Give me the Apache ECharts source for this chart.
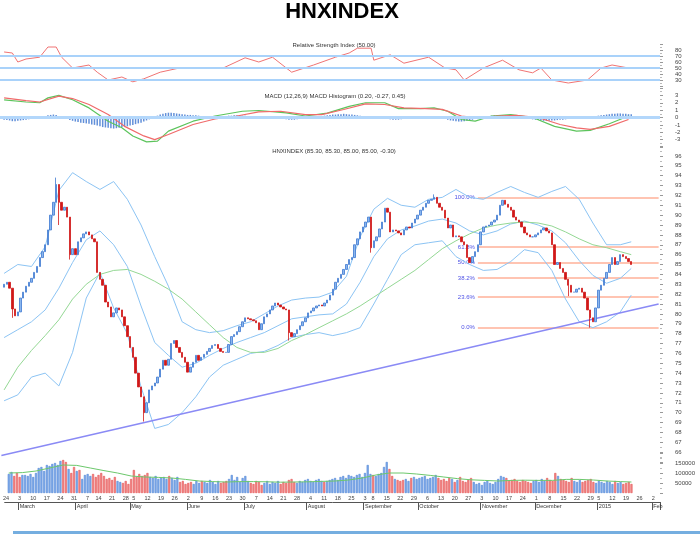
<!DOCTYPE html>
<html>
<head>
<meta charset="utf-8">
<title>HNXINDEX</title>
<script src="https://cdn.jsdelivr.net/npm/echarts@6.0.0/dist/echarts.min.js"></script>
<style>
html,body{margin:0;padding:0;background:#ffffff;}
#chart{width:700px;height:534px;}
</style>
</head>
<body>
<div id="chart"></div>
<script>
// ---------------- categories (trading days) ----------------
const axisStart = '2014-02-24';
const axisEnd = '2015-02-04';
const holidays = ['2014-04-09','2014-04-30','2014-05-01','2014-09-01','2014-09-02','2015-01-01','2015-01-02'];
const priceStart = '2014-02-25';
const monthTitles = {'2014-03':'March','2014-04':'April','2014-05':'May','2014-06':'June','2014-07':'July','2014-08':'August','2014-09':'September','2014-10':'October','2014-11':'November','2014-12':'December','2015-01':'2015','2015-02':'Feb'};

// ---------------- price (daily closes) ----------------
const firstOpen = 82.7;
const closes = [
83.0,83.2,82.6,80.5,79.8,80.2,81.6,82.2,82.8,83.2,
83.6,84.2,84.8,85.7,86.3,87.0,88.5,90.0,91.3,93.1,
91.3,90.5,90.8,89.8,86.0,86.6,86.0,87.3,87.7,88.1,
88.3,88.0,87.6,87.3,84.2,83.5,82.9,81.2,80.7,79.7,
80.1,80.6,80.4,79.7,78.8,77.7,76.6,75.6,74.0,72.6,
71.6,70.0,71.0,72.3,72.7,73.0,73.6,74.4,75.3,74.8,
75.4,77.0,77.3,76.6,76.1,75.6,75.1,74.1,74.6,75.1,
75.8,75.3,75.6,75.9,76.2,76.5,76.8,76.9,76.5,76.2,
76.1,76.1,76.9,77.7,77.9,78.2,78.7,79.2,79.6,79.5,
79.4,79.3,79.1,78.4,79.0,79.7,80.0,80.4,80.8,81.1,
80.9,80.7,80.5,80.4,78.1,77.7,78.0,78.4,78.8,79.2,
79.6,80.1,80.3,80.6,80.8,80.9,80.8,81.1,81.4,81.9,
82.5,83.2,83.6,84.0,84.5,85.0,85.5,85.7,87.0,87.6,
88.3,88.8,89.3,89.8,86.7,87.4,87.8,88.6,89.3,90.7,
90.3,88.3,88.5,88.4,88.2,88.0,88.5,88.8,88.7,89.2,
89.6,90.0,90.5,90.8,91.2,91.5,91.6,91.8,91.2,90.8,
90.5,89.7,88.7,89.0,87.8,87.9,87.8,87.3,87.0,85.7,
85.2,85.8,86.3,87.0,88.3,88.8,88.9,89.0,89.3,89.5,
90.0,91.0,91.5,91.1,90.8,90.5,89.8,89.5,89.3,88.8,
88.2,88.0,87.8,87.8,88.0,88.2,88.5,88.7,88.4,88.2,
87.0,85.0,85.2,84.6,84.2,83.5,82.9,82.2,82.2,82.5,
82.6,82.2,81.6,80.4,79.6,79.2,80.6,82.4,82.9,83.6,
84.2,85.0,85.7,85.0,85.3,86.0,85.8,85.6,85.3,85.0
];
const wickLow = {3:79.6, 20:89.0, 24:85.5, 51:69.1, 104:77.3, 134:86.2, 206:81.8, 214:78.6};
const wickHigh = {19:93.8, 157:92.1};

// ---------------- volume (thousand shares) ----------------
const volumes = [
95,105,85,100,80,90,90,85,95,80,
100,125,130,110,140,135,145,150,140,160,
165,155,120,100,130,110,115,70,90,95,
85,95,80,90,100,85,70,75,65,80,
60,55,50,60,45,70,115,80,95,85,
90,100,80,75,85,70,75,80,70,85,
75,65,80,55,60,45,50,55,45,60,
50,60,55,50,65,55,45,60,50,55,
60,70,90,65,80,55,75,85,60,50,
45,60,55,40,50,60,45,55,50,60,
45,55,50,65,70,55,50,60,55,65,
70,60,55,65,70,60,55,60,65,70,
75,65,80,85,75,90,85,80,90,95,
80,100,140,95,90,85,95,100,130,155,
120,85,70,65,60,65,70,60,75,80,
70,75,80,85,70,75,80,90,75,65,
70,60,75,70,55,65,80,60,55,65,
75,55,45,50,40,55,60,50,45,55,
70,85,80,75,60,65,70,60,55,65,
60,55,50,60,65,55,70,60,75,65,
60,100,85,70,65,60,55,75,60,55,
65,55,60,65,70,55,50,60,55,50,
60,55,45,60,50,55,45,50,55,45
];

// ---------------- MACD histogram (daily) ----------------
const macdHist = [
-0.3,-0.35,-0.4,-0.5,-0.5,-0.45,-0.4,-0.35,-0.3,-0.25,
-0.2,-0.15,-0.1,-0.05,0.1,0.2,0.3,0.35,0.4,0.35,
0.2,0.05,-0.1,-0.2,-0.35,-0.45,-0.55,-0.6,-0.7,-0.75,
-0.8,-0.85,-0.95,-1.0,-1.1,-1.2,-1.3,-1.35,-1.4,-1.45,
-1.5,-1.45,-1.4,-1.3,-1.25,-1.2,-1.1,-1.0,-0.9,-0.8,
-0.7,-0.55,-0.4,-0.25,-0.1,0.1,0.25,0.4,0.5,0.6,
0.65,0.65,0.6,0.55,0.5,0.45,0.4,0.35,0.35,0.3,
0.3,0.25,0.2,0.2,0.15,0.15,0.1,0.1,0.15,0.15,
0.2,0.2,0.25,0.25,0.3,0.3,0.3,0.25,0.25,0.2,
0.2,0.15,0.15,0.1,0.1,0.05,0.05,0,-0.05,-0.05,
-0.1,-0.15,-0.2,-0.25,-0.3,-0.3,-0.3,-0.25,-0.2,-0.15,
-0.1,-0.05,0,0.05,0.1,0.15,0.2,0.25,0.3,0.35,
0.4,0.4,0.45,0.45,0.5,0.45,0.4,0.4,0.35,0.3,
0.25,0.2,0.2,0.15,0.1,0.05,0,-0.05,-0.1,-0.15,
-0.2,-0.25,-0.3,-0.3,-0.3,-0.25,-0.2,-0.15,-0.1,-0.05,
0,0.05,0.1,0.1,0.15,0.15,0.15,0.1,0.05,0,
-0.1,-0.2,-0.3,-0.4,-0.45,-0.5,-0.55,-0.55,-0.5,-0.45,
-0.4,-0.3,-0.2,-0.1,0,0.1,0.15,0.2,0.25,0.3,
0.3,0.3,0.3,0.25,0.2,0.15,0.1,0.05,0,-0.05,
-0.1,-0.15,-0.2,-0.25,-0.3,-0.35,-0.4,-0.45,-0.45,-0.45,
-0.4,-0.4,-0.35,-0.3,-0.3,-0.25,-0.2,-0.2,-0.15,-0.1,
-0.05,0,0,0.05,0.1,0.15,0.2,0.25,0.3,0.35,
0.4,0.45,0.5,0.5,0.55,0.55,0.5,0.5,0.45,0.45
];

// ---------------- indicator readings (day index from priceStart) ----------------
const bandDays = [0,5,10,15,20,25,30,35,40,45,50,55,60,65,70,75,80,85,90,95,100,105,110,115,120,125,130,135,140,145,150,155,160,165,170,175,180,185,190,195,200,205,210,215,220,225,229];
const upperBand = [84.1,85.0,84.8,86.8,92.5,94.3,93.4,92.6,93.4,91.6,89.0,85.8,82.8,79.2,78.4,78.1,78.3,78.8,79.2,80.0,80.8,81.4,81.6,81.7,82.2,83.8,87.8,90.6,91.7,91.0,90.8,91.6,91.8,92.6,91.8,91.6,92.3,92.9,92.3,91.8,92.4,92.9,91.6,89.2,87.0,87.0,87.3];
const midBand = [77.6,78.4,79.2,80.4,82.6,85.2,87.5,88.4,87.0,84.8,80.8,77.1,75.8,74.6,75.0,75.8,76.5,77.1,77.6,78.1,78.8,79.5,79.7,79.9,80.0,81.0,83.2,85.8,87.6,88.5,88.9,89.4,89.6,89.2,88.4,88.0,88.4,89.1,89.4,89.0,88.4,87.2,85.4,83.9,83.1,83.6,84.6];
const lowerBand = [71.2,71.8,73.6,74.0,72.7,76.1,81.6,84.2,80.6,78.0,72.6,68.4,68.8,70.0,71.6,73.6,74.8,75.4,76.0,76.2,76.8,77.6,77.9,78.1,77.8,78.1,78.6,81.0,83.5,86.0,87.0,87.2,87.4,85.8,85.0,84.4,84.5,85.3,86.5,86.2,84.4,81.5,79.2,78.6,79.2,80.2,81.9];
const longMA = [72.3,74.6,76.3,77.8,79.4,81.5,83.0,84.0,84.4,84.5,84.0,83.3,82.5,81.5,80.2,78.9,77.6,76.6,76.1,76.1,76.5,77.3,77.9,78.6,79.3,80.0,80.8,81.7,82.6,83.5,84.4,85.5,86.6,87.4,88.1,88.7,89.0,89.2,89.3,89.2,88.9,88.3,87.6,87.0,86.7,86.3,86.0];
const volumeMA = [100,102,110,125,140,138,125,112,100,85,80,78,75,68,60,57,55,57,57,56,54,55,56,58,60,65,75,90,100,100,95,88,80,72,66,63,60,63,64,63,63,68,68,65,60,57,55];

const rsiDays = [0,3,5,8,13,16,19,21,25,31,34,38,43,47,51,57,64,72,80,88,93,98,105,113,121,126,129,134,135,141,146,155,161,165,168,175,182,188,193,196,200,206,213,218,222,228];
const rsiValues = [76.7,75,60,65,68,85,85,68,50,55,43,30,35,27,32,43,50,50,50,67,60,68,43,55,68,75,83,83,63,72,58,68,50,47,30,50,63,47,42,50,30,25,30,50,55,50];
const macdDays = [0,8,13,16,20,25,31,38,43,47,52,56,60,69,77,87,93,103,110,118,126,132,139,144,152,157,162,167,172,178,185,193,201,209,214,221,228];
const macdValues = [2.4,2.1,2.0,2.66,3.0,2.4,1.3,-0.5,-1.4,-2.5,-3.3,-3.2,-1.85,-0.5,0.2,0.85,0.95,0.63,0.2,0.6,1.5,2.0,2.0,1.2,1.2,1.3,0.85,-0.27,-0.5,0.2,0.4,0,-1.2,-1.85,-1.75,-0.85,0.2];
const signalDays = [0,8,13,20,25,31,38,44,51,55,60,69,77,85,93,101,110,116,124,132,139,146,154,160,167,173,180,187,195,203,209,214,221,228];
const signalValues = [2.66,2.3,2.1,2.9,2.57,1.76,0.4,-1.2,-2.5,-3.0,-2.3,-0.95,-0.2,0.2,0.77,0.85,0.4,0.4,1.08,1.85,1.76,1.3,1.2,1.1,0.2,-0.05,0.2,0.3,0,-0.95,-1.4,-1.6,-1.2,-0.27];

// ---------------- drawings ----------------
const fibLow = 78.6, fibHigh = 91.8;
const fibLevels = [0, 23.6, 38.2, 50, 61.8, 100];
const fibFrom = '2014-10-31';
const trendValues = [65.65, 81.0]; // at axisStart and axisEnd
const rsiLevels = [70, 50, 30];

// ---------------- build ----------------
function tradingDays(a, b, hol) {
  const out = [], h = new Set(hol);
  let t = Date.UTC(+a.slice(0,4), +a.slice(5,7)-1, +a.slice(8,10));
  const e = Date.UTC(+b.slice(0,4), +b.slice(5,7)-1, +b.slice(8,10));
  while (t <= e) {
    const d = new Date(t), wd = d.getUTCDay(), s = d.toISOString().slice(0,10);
    if (wd > 0 && wd < 6 && !h.has(s)) out.push(s);
    t += 86400000;
  }
  return out;
}
const dates = tradingDays(axisStart, axisEnd, holidays);
const p0 = dates.indexOf(priceStart);
const wday = s => new Date(s + 'T00:00:00Z').getUTCDay();
const isWeekStart = i => i === 0 || wday(dates[i]) <= wday(dates[i-1]);
const isMonthStart = i => i > 0 && dates[i].slice(0,7) !== dates[i-1].slice(0,7);

const ohlc = closes.map((c, i) => {
  const o = i === 0 ? firstOpen : closes[i-1];
  let lo = Math.min(o, c), hi = Math.max(o, c);
  if (wickLow[i] !== undefined) lo = Math.min(lo, wickLow[i]);
  if (wickHigh[i] !== undefined) hi = Math.max(hi, wickHigh[i]);
  return [o, c, lo, hi];
});
const pad = new Array(p0).fill('-');
const candleData = pad.map(() => ['-','-','-','-']).concat(ohlc);
const volData = pad.concat(volumes.map((v, i) => {
  const up = ohlc[i][1] >= ohlc[i][0];
  return {value: v, itemStyle: {color: up ? 'rgba(110,160,232,0.85)' : 'rgba(240,120,120,0.85)', borderColor: up ? '#3f78d0' : '#e04040', borderWidth: 0.5}};
}));
const histData = pad.concat(macdHist);
const pairs = (days, vals) => days.map((d, k) => [d + p0, vals[k]]);

const smallFont = "'Liberation Sans', Arial, sans-serif";
const lbl = {fontSize: 6, color: '#444', margin: 15, fontFamily: smallFont, showMinLabel: false, showMaxLabel: false};
function rightAxis(grid, min, max, interval, extra) {
  return Object.assign({
    type: 'value', gridIndex: grid, position: 'right', min, max, interval,
    splitLine: {show: false}, axisLine: {show: false},
    axisTick: {show: true, length: 3, lineStyle: {color: '#999'}},
    minorTick: {show: true, splitNumber: 2, length: 2, lineStyle: {color: '#bbb'}},
    axisLabel: Object.assign({}, lbl)
  }, extra || {});
}
const hiddenX = g => ({type: 'category', gridIndex: g, data: dates, show: false, boundaryGap: true});
const lineS = (x, y, data, color, w, z) => ({type: 'line', xAxisIndex: x, yAxisIndex: y, data, symbol: 'none', showSymbol: false, connectNulls: true, lineStyle: {color, width: w}, z: z || 2, silent: true});

const last = ohlc[ohlc.length-1], prev = ohlc[ohlc.length-2];
const mainTitle = 'HNXINDEX (' + [last[0], last[3], last[2], last[1]].map(v => v.toFixed(2)).join(', ') + ', ' + (last[1]-prev[1]).toFixed(2) + ')';
const rsiTitle = 'Relative Strength Index (' + rsiValues[rsiValues.length-1].toFixed(2) + ')';
const macdTitle = 'MACD (12,26,9) MACD Histogram (' + [macdValues[macdValues.length-1], signalValues[signalValues.length-1], macdHist[macdHist.length-1]].map(v => v.toFixed(2)).join(', ') + ')';

const W = 660;
const option = {
  animation: false,
  backgroundColor: '#ffffff',
  textStyle: {fontFamily: smallFont},
  graphic: [
    {type: 'text', x: 342, y: 1, style: {text: 'HNXINDEX', font: "bold 22px 'Liberation Sans', Arial, sans-serif", fill: '#000', textAlign: 'center', textVerticalAlign: 'top'}},
    {type: 'text', x: 334, y: 42, style: {text: rsiTitle, font: "6px 'Liberation Sans', Arial", fill: '#333', textAlign: 'center', textVerticalAlign: 'top'}},
    {type: 'text', x: 335, y: 93, style: {text: macdTitle, font: "6px 'Liberation Sans', Arial", fill: '#333', textAlign: 'center', textVerticalAlign: 'top'}},
    {type: 'text', x: 334, y: 148, style: {text: mainTitle, font: "6px 'Liberation Sans', Arial", fill: '#333', textAlign: 'center', textVerticalAlign: 'top'}},
    {type: 'rect', shape: {x: 13, y: 531, width: 687, height: 3}, style: {fill: '#75aee0'}}
  ],
  grid: [
    {left: 0, right: 700 - W, top: 44, height: 42},
    {left: 0, right: 700 - W, top: 88, height: 59},
    {left: 0, right: 700 - W, top: 146, height: 316},
    {left: 0, right: 700 - W, top: 453, height: 40}
  ],
  xAxis: [
    hiddenX(0), hiddenX(1), hiddenX(2),
    {type: 'category', gridIndex: 3, data: dates, boundaryGap: true,
     axisLine: {show: false}, axisTick: {show: false},
     axisLabel: {interval: (i) => isWeekStart(i), formatter: v => String(+v.slice(8)), fontSize: 5.5, color: '#444', margin: 2, fontFamily: smallFont}},
    {type: 'category', gridIndex: 3, data: dates, boundaryGap: true, position: 'bottom', offset: 9,
     axisLine: {show: true, lineStyle: {color: '#555', width: 1}},
     axisTick: {show: true, interval: (i) => isMonthStart(i), length: 8, lineStyle: {color: '#555'}},
     axisLabel: {interval: (i) => isMonthStart(i), formatter: v => monthTitles[v.slice(0,7)] || '', fontSize: 5.5, color: '#333', margin: 1, align: 'left', fontFamily: smallFont}}
  ],
  yAxis: [
    rightAxis(0, 20, 90, 10),
    rightAxis(1, -4, 4, 1),
    rightAxis(2, 65, 97, 1),
    rightAxis(3, 0, 200, 50, {axisLabel: Object.assign({}, lbl, {formatter: v => String(v * 1000)})})
  ],
  series: [
    Object.assign(lineS(0, 0, pairs(rsiDays, rsiValues), '#f07474', 1, 3), {
      markLine: {silent: true, symbol: ['none','none'], label: {show: false}, lineStyle: {color: '#a9d2fa', width: 2, type: 'solid'}, data: rsiLevels.map(v => ({yAxis: v}))}
    }),
    {type: 'bar', xAxisIndex: 1, yAxisIndex: 1, data: histData, barWidth: '55%', itemStyle: {color: 'rgba(70,125,210,0.85)'}, silent: true,
     markLine: {silent: true, symbol: ['none','none'], label: {show: false}, lineStyle: {color: '#b3d7fb', width: 3, type: 'solid'}, data: [{yAxis: 0}]}},
    lineS(1, 1, pairs(macdDays, macdValues), '#5cc45c', 1.2, 3),
    lineS(1, 1, pairs(signalDays, signalValues), '#f06a6a', 1.2, 3),
    lineS(2, 2, pairs(bandDays, upperBand), '#8cc4f4', 1, 2),
    lineS(2, 2, pairs(bandDays, midBand), '#8cc4f4', 1, 2),
    lineS(2, 2, pairs(bandDays, lowerBand), '#8cc4f4', 1, 2),
    lineS(2, 2, pairs(bandDays, longMA), '#94d894', 1, 2),
    lineS(2, 2, [[dates[0], trendValues[0]], [dates[dates.length-1], trendValues[1]]], '#8a8af5', 1.5, 2),
    {type: 'candlestick', xAxisIndex: 2, yAxisIndex: 2, data: candleData, barWidth: '70%', z: 4, silent: true,
     itemStyle: {color: '#8ab6ee', color0: '#d01818', borderColor: '#3f78d0', borderColor0: '#d01818', borderWidth: 0.8},
     markLine: {silent: true, symbol: ['none','none'], z: 1,
       lineStyle: {color: '#ffc4b2', width: 2, type: 'solid'},
       label: {show: true, position: 'start', fontSize: 6, color: '#4f52e6', distance: 3, formatter: p => p.name, fontFamily: smallFont},
       data: fibLevels.map(p => {const v = fibLow + (fibHigh - fibLow) * p / 100; return [{coord: [fibFrom, v], name: p.toFixed(1) + '%'}, {coord: [axisEnd, v]}];})}},
    {type: 'bar', xAxisIndex: 3, yAxisIndex: 3, data: volData, barWidth: '75%', silent: true},
    lineS(3, 3, pairs(bandDays, volumeMA), '#6cc86c', 1, 3)
  ]
};
const chart = echarts.init(document.getElementById('chart'), null, {renderer: 'canvas'});
chart.setOption(option);
</script>
</body>
</html>
